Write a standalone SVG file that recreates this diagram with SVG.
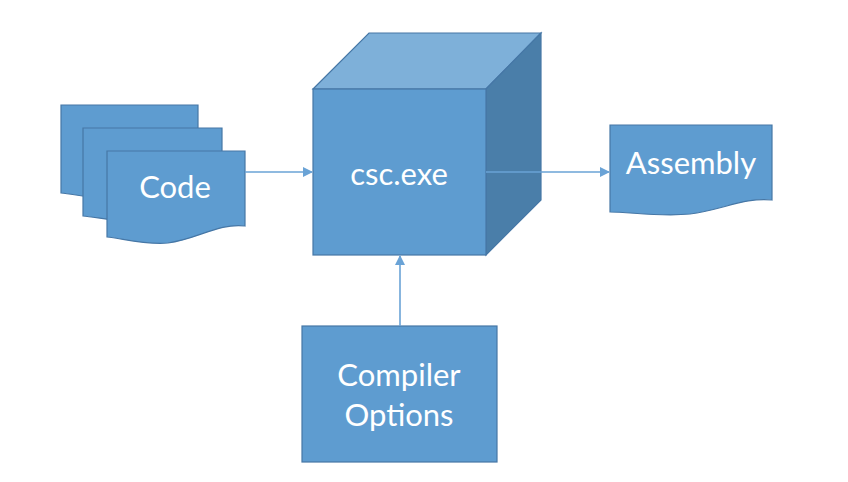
<svg xmlns="http://www.w3.org/2000/svg" width="848" height="482" viewBox="0 0 848 482">
<defs>
<style>
.s{fill:#5e9cd0;stroke:#4677a6;stroke-width:1.2}
.top{fill:#7eb0d9;stroke:#4677a6;stroke-width:1.2}
.side{fill:#4a7ea9;stroke:#4677a6;stroke-width:1.2}
.t{fill:#ffffff;font-family:Lato,"Open Sans","Liberation Sans",sans-serif;font-size:31px;text-anchor:middle}
.c{stroke:#6aa3d6;stroke-width:1.6;fill:none}
</style>
<marker id="ah" viewBox="0 0 10 10" refX="9" refY="5" markerWidth="10" markerHeight="10" markerUnits="userSpaceOnUse" orient="auto">
<path d="M0,0 L10,5 L0,10 z" fill="#6aa3d6"/>
</marker>
</defs>
<rect width="848" height="482" fill="#ffffff"/>
<g id="code">
<path class="s" d="M61,105 H198 V181 C170,178 150,193 120,198 C95,200 75,194 61,193 Z"/>
<path class="s" d="M83,128 H222 V204 C194,201 174,216 144,221 C119,223 97,217 83,216 Z"/>
<path class="s" d="M107,151 H245 V226 C218,223 198,239 168,243 C143,245 121,238 107,237 Z"/>
<text class="t" x="175" y="198">Code</text>
</g>
<g id="csc">
<path class="top" d="M313,89 L369,33 H541 L486,89 Z"/>
<path class="side" d="M486,89 L541,33 V200 L486,255 Z"/>
<rect class="s" x="313" y="89" width="173" height="166"/>
<text class="t" x="399" y="185">csc.exe</text>
</g>
<g id="assembly">
<path class="s" d="M610,125 H772 V200 C745,197 722,210 690,214 C660,217 630,212 610,212 Z"/>
<text class="t" x="691" y="174">Assembly</text>
</g>
<g id="options">
<rect class="s" x="302" y="326" width="195" height="136"/>
<text class="t" x="399" y="386">Compiler</text>
<text class="t" x="399" y="426">Options</text>
</g>
<g id="connectors">
<line class="c" x1="245" y1="172" x2="312" y2="172" marker-end="url(#ah)"/>
<line class="c" x1="486" y1="172" x2="609" y2="172" marker-end="url(#ah)"/>
<line class="c" x1="400" y1="326" x2="400" y2="256" marker-end="url(#ah)"/>
</g>
</svg>
